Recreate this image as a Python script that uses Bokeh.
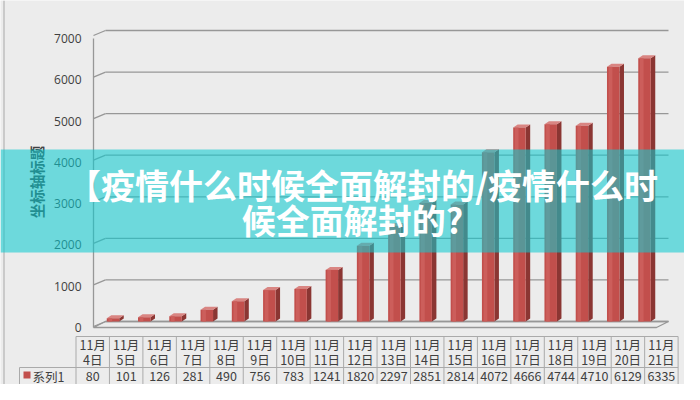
import numpy as np
from bokeh.plotting import figure
from bokeh.models import Range1d, LinearAxis, FixedTicker, BoxAnnotation
from bokeh.core.properties import value
from bokeh.embed import file_html
from bokeh.resources import INLINE

# ---------------- data ----------------
dates = ["11月4日", "11月5日", "11月6日", "11月7日", "11月8日", "11月9日",
         "11月10日", "11月11日", "11月12日", "11月13日", "11月14日", "11月15日",
         "11月16日", "11月17日", "11月18日", "11月19日", "11月20日", "11月21日"]
counts = [80, 101, 126, 281, 490, 756, 783, 1241, 1820, 2297, 2851, 2814,
          4072, 4666, 4744, 4710, 6129, 6335]
series_name = "系列1"
y_ticks = [0, 1000, 2000, 3000, 4000, 5000, 6000, 7000]
y_axis_title = "坐标轴标题"
title_lines = ["【疫情什么时候全面解封的/疫情什么时", "候全面解封的?"]

# ---------------- layout helpers (canvas pixel -> data units) ----------------
W, H = 684, 384
XU, X0 = 33.45, 75.5          # px per table column, x of column 0 start
Y0, YS = 321.0, 41.57 / 1000  # wall scale: y of value 0, px per unit
L0, LS = 327.0, 41.29 / 1000  # tick-label scale


def ux(px):
    return (px - X0) / XU


def vy(py):
    return (Y0 - py) / YS


BG = "#ececec"
GRID = "#979797"
TXT = "#404040"
CJK = "Noto Sans CJK SC"

p = figure(width=W, height=H,
           x_range=Range1d(ux(0), ux(W)),
           y_range=Range1d(vy(H), vy(0)),
           x_axis_type=None, y_axis_type=None,
           toolbar_location=None, output_backend="svg",
           min_border=0, background_fill_color=BG, border_fill_color=BG,
           outline_line_color=None)
p.extra_y_ranges = {"lab": Range1d((L0 - H) / LS, L0 / LS)}

# sheet edge line at far left
p.segment(x0=ux(3.5), y0=vy(0), x1=ux(3.5), y1=vy(H), line_color="#a8a8a8", line_width=1)

# ---------------- value axis ----------------
yax = LinearAxis(y_range_name="lab", ticker=FixedTicker(ticks=y_ticks),
                 fixed_location=ux(93), bounds=(min(y_ticks), max(y_ticks)),
                 axis_line_color=GRID, axis_line_width=1.3,
                 major_tick_line_color=None, minor_tick_line_color=None,
                 major_tick_in=0, major_tick_out=0,
                 minor_tick_in=0, minor_tick_out=0,
                 major_label_standoff=12,
                 major_label_text_font="Open Sans",
                 major_label_text_font_size="12px",
                 major_label_text_color=TXT)
p.add_layout(yax, "left")

# axis title (rotated, beside the tick labels)
p.text(x=[ux(36)], y=[vy(181.5)], text=[y_axis_title], angle=np.pi / 2,
       text_font=value(CJK), text_font_size="14.5px", text_font_style="bold",
       text_color=TXT, text_align="center", text_baseline="middle")

# ---------------- 3D wall gridlines and floor ----------------
ticks = np.array(y_ticks, dtype=float)
p.segment(x0=ux(105), y0=ticks, x1=ux(668), y1=ticks,
          line_color=GRID, line_width=1.3)
p.segment(x0=ux(93), y0=ticks - 120, x1=ux(105), y1=ticks,
          line_color=GRID, line_width=1.3)
p.patch(x=[ux(93), ux(105), ux(668), ux(656)],
        y=[vy(327), 0, 0, vy(327)],
        fill_color=None, line_color=GRID, line_width=1.3)

# ---------------- 3D columns ----------------
n = len(counts)
vals = np.array(counts, dtype=float)
bar_x = np.linspace(ux(112.5), ux(644), n)
fw = 12.5 / XU    # front face width
sd = 4.5 / XU     # depth offset in x
dr = 3 / YS       # depth offset in y

p.patches(xs=[[x + fw / 2, x + fw / 2 + sd, x + fw / 2 + sd, x + fw / 2] for x in bar_x],
          ys=[[0, dr, c + dr, c] for c in vals],
          fill_color="#8b3633", line_color=None)
p.patches(xs=[[x - fw / 2, x + fw / 2, x + fw / 2 + sd, x - fw / 2 + sd] for x in bar_x],
          ys=[[c, c, c + dr, c + dr] for c in vals],
          fill_color="#d98582", line_color=None)
p.vbar(x=bar_x, width=fw, bottom=0, top=vals,
       fill_color="#c24f4c", line_color=None)
p.vbar(x=bar_x - fw * 0.22, width=fw * 0.3, bottom=0, top=vals,
       fill_color="#cc5e5b", line_color=None)

# ---------------- data table ----------------
TB = "#aaaaaa"
T_TOP, T_MID, T_BOT = 336, 367, 386
cols = np.arange(n + 1, dtype=float)
p.segment(x0=0, y0=vy(T_TOP), x1=n, y1=vy(T_TOP), line_color=TB)
p.segment(x0=[ux(19)] * 2, y0=[vy(T_MID), vy(T_BOT)], x1=[n] * 2,
          y1=[vy(T_MID), vy(T_BOT)], line_color=TB)
p.segment(x0=cols, y0=vy(T_TOP), x1=cols, y1=vy(T_BOT), line_color=TB)
p.segment(x0=ux(19), y0=vy(T_MID), x1=ux(19), y1=vy(T_BOT), line_color=TB)

centers = np.arange(n) + 0.5
months = [d.split("月")[0] + "月" for d in dates]
days = [d.split("月")[1] for d in dates]
tstyle = dict(text_font=value(CJK), text_font_size="12.5px", text_color=TXT,
              text_align="center", text_baseline="middle")
p.text(x=centers, y=vy(344), text=months, **tstyle)
p.text(x=centers, y=vy(359), text=days, **tstyle)
p.text(x=centers, y=vy(375.5), text=[str(c) for c in counts], **tstyle)

p.scatter(x=[ux(26.5)], y=[vy(374.5)], marker="square", size=7,
          fill_color="#c24f4c", line_color=None)
p.text(x=[ux(32)], y=[vy(375.5)], text=[series_name],
       text_font=value(CJK), text_font_size="12.5px", text_color=TXT,
       text_align="left", text_baseline="middle")

# ---------------- overlay banner ----------------
p.add_layout(BoxAnnotation(bottom=vy(252), top=vy(149),
                           fill_color="#0dcbd0", fill_alpha=0.57,
                           line_color=None))
p.text(x=[ux(362), ux(352)], y=[vy(184), vy(219)], text=title_lines,
       text_font=value(CJK), text_font_size="34px", text_font_style="bold",
       text_color="white", text_align="center", text_baseline="middle",
       level="overlay")

open("out.html", "w").write(file_html(p, INLINE))
